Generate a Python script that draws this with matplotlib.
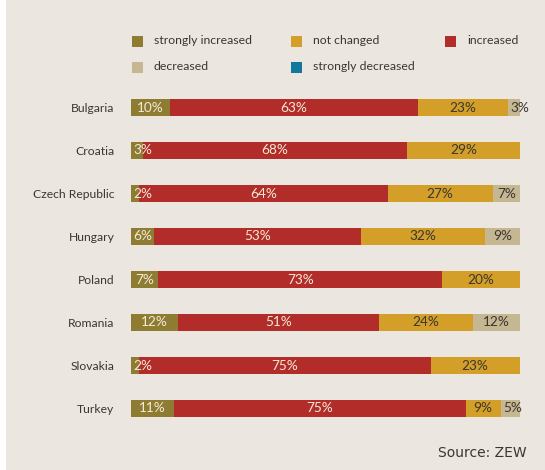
import matplotlib.pyplot as plt
from matplotlib.patches import Rectangle

countries = ["Bulgaria", "Croatia", "Czech Republic", "Hungary", "Poland",
             "Romania", "Slovakia", "Turkey"]
strongly_increased = [10, 3, 2, 6, 7, 12, 2, 11]
increased = [63, 68, 64, 53, 73, 51, 75, 75]
not_changed = [23, 29, 27, 32, 20, 24, 23, 9]
decreased = [3, 0, 7, 9, 0, 12, 0, 5]
strongly_decreased = [0, 0, 0, 0, 0, 0, 0, 0]

series = [
    ("strongly increased", strongly_increased, "#8f7c33", "#f3ead6"),
    ("increased", increased, "#b22d29", "#f3ead6"),
    ("not changed", not_changed, "#d39f29", "#3a3630"),
    ("decreased", decreased, "#c6b793", "#3a3630"),
    ("strongly decreased", strongly_decreased, "#10799c", "#f3ead6"),
]

W, H = 545, 470
BG = "#ebe7e0"
fig = plt.figure(figsize=(W / 100, H / 100), dpi=100, facecolor="white")
fig.add_artist(Rectangle((6 / W, 0), 1 - 6 / W, 1, transform=fig.transFigure,
                         facecolor=BG, edgecolor="none", zorder=0))

# bars: x 131..520 px, rows centred 108..408 px
ax = fig.add_axes([131 / W, 1 - 430 / H, 389 / W, 344 / H])
ax.set_facecolor("none")
n = len(countries)
ys = list(range(n))
totals = [sum(s[1][i] for s in series) for i in range(n)]

left = [0.0] * n
for name, vals, color, tcol in series:
    widths = [v * 100 / t for v, t in zip(vals, totals)]
    ax.barh(ys, widths, left=left, height=0.38, color=color, edgecolor="none")
    for i, (v, w) in enumerate(zip(vals, widths)):
        if v > 0:
            x = max(left[i] + w / 2, left[i] + 3.0)
            ax.text(x, i, f"{v}%", ha="center", va="center", fontsize=9.8,
                    color=tcol, family="Lato")
    left = [l + w for l, w in zip(left, widths)]

ax.set_xlim(0, 100)
ax.set_ylim(n - 0.5, -0.5)
ax.set_yticks(ys)
ax.set_yticklabels(countries, fontsize=8.7, color="#3a3630", family="Lato")
ax.tick_params(axis="y", length=0, pad=12)
ax.set_xticks([])
for sp in ax.spines.values():
    sp.set_visible(False)

# legend laid out row by row, 3 columns
legend_order = ["strongly increased", "not changed", "increased",
                "decreased", "strongly decreased"]
colors = {s[0]: s[2] for s in series}
col_x = [132, 291, 445]
row_y = [41, 67]
for k, name in enumerate(legend_order):
    cx, cy = col_x[k % 3], row_y[k // 3]
    fig.add_artist(Rectangle((cx / W, 1 - (cy + 5.5) / H), 11 / W, 11 / H,
                             transform=fig.transFigure, facecolor=colors[name],
                             edgecolor="none"))
    fig.text((cx + 22) / W, 1 - cy / H, name, ha="left", va="center",
             fontsize=8.8, color="#3a3630", family="Lato")

fig.text(527 / W, 1 - 453 / H, "Source: ZEW", ha="right", va="center",
         fontsize=10, color="#3a3630")

fig.savefig("out.png", dpi=100, facecolor=fig.get_facecolor())
